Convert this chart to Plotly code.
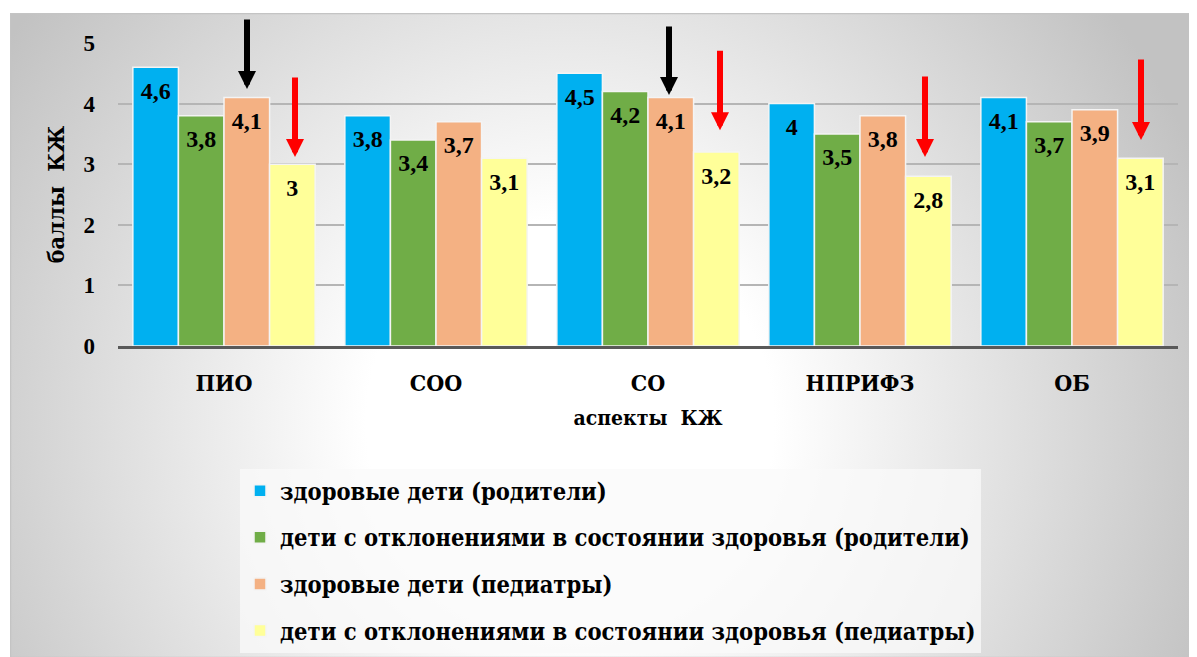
import base64
import plotly.graph_objects as go

categories = ["ПИО", "СОО", "СО", "НПРИФЗ", "ОБ"]
series_names = [
    "здоровые дети (родители)",
    "дети с отклонениями в состоянии здоровья (родители)",
    "здоровые дети (педиатры)",
    "дети с отклонениями в состоянии здоровья (педиатры)",
]
healthy_parents = [4.6, 3.8, 4.5, 4.0, 4.1]
deviation_parents = [3.8, 3.4, 4.2, 3.5, 3.7]
healthy_pediatr = [4.1, 3.7, 4.1, 3.8, 3.9]
deviation_pediatr = [3.0, 3.1, 3.2, 2.8, 3.1]
series_values = [healthy_parents, deviation_parents, healthy_pediatr, deviation_pediatr]
colors = ["#00B0F0", "#70AD47", "#F4B183", "#FFFF99"]
y_ticks = [0, 1, 2, 3, 4, 5]

NUMFONT = "Liberation Serif"
CYRFONT = "DejaVu Serif Condensed"
OFF = 8  # page body margin
W, H = 1197 - OFF, 657 - OFF
ML, MR, MT, MB = 118 - OFF, 19, 43 - OFF, 311
PW, PH = W - ML - MR, H - MT - MB

def fmt(v):
    s = f"{v:.1f}".replace(".", ",")
    return s[:-2] if s.endswith(",0") else s

fig = go.Figure()
for i, (name, vals, col) in enumerate(zip(series_names, series_values, colors)):
    fig.add_trace(go.Bar(
        x=categories, y=vals, name=name, offsetgroup=str(i),
        marker=dict(color=col, line=dict(color="#f4f4f4", width=1.5)),
        legendgroup=str(i), hoverinfo="skip",
    ))
for i, vals in enumerate(series_values):
    fig.add_trace(go.Scatter(
        x=categories, y=vals, mode="markers+text", offsetgroup=str(i),
        text=[fmt(v) for v in vals], textposition="bottom center",
        marker=dict(size=20, color="rgba(0,0,0,0)"),
        textfont=dict(family=NUMFONT, size=24, color="black", weight="bold"),
        showlegend=False, hoverinfo="skip", cliponaxis=False,
    ))

bx, by = 10 - OFF, 13 - OFF
gw, gh = W - bx, H - by
svg = (f'<svg xmlns="http://www.w3.org/2000/svg" width="{gw}" height="{gh}">'
       f'<defs><radialGradient id="g" gradientUnits="userSpaceOnUse" cx="560" cy="410" r="680">'
       f'<stop offset="0" stop-color="#ffffff"/><stop offset="0.3" stop-color="#ffffff"/>'
       f'<stop offset="1" stop-color="#c2c2c2"/></radialGradient></defs>'
       f'<rect x="0" y="0" width="{gw}" height="{gh}" fill="url(#g)"/>'
       f'<rect x="0.5" y="0.5" width="{gw}" height="{gh}" fill="none" stroke="#c4c4c4" stroke-width="1.5"/>'
       f'</svg>')
src = "data:image/svg+xml;base64," + base64.b64encode(svg.encode()).decode()
fig.add_layout_image(dict(
    source=src, xref="paper", yref="paper",
    x=(bx - ML) / PW, y=(H - MB - by) / PH, sizex=gw / PW, sizey=gh / PH,
    xanchor="left", yanchor="top", sizing="stretch", layer="below",
))

arrows = [
    ("ПИО", 23, 4.24, -71, "black"),
    ("ПИО", 71, 3.12, -81, "red"),
    ("СО", 21, 4.14, -70, "black"),
    ("СО", 72, 3.56, -81, "red"),
    ("НПРИФЗ", 65, 3.12, -82, "red"),
    ("ОБ", 69, 3.40, -82, "red"),
]
for cat, dx, yv, ay, col in arrows:
    fig.add_annotation(x=cat, y=yv, xref="x", yref="y", xshift=dx, text="",
                       showarrow=True, ax=0, ay=ay, arrowcolor=col,
                       arrowwidth=6, arrowhead=2, arrowsize=0.6)

fig.update_layout(
    width=W, height=H, autosize=False,
    margin=dict(l=ML, r=MR, t=MT, b=MB, autoexpand=False),
    paper_bgcolor="white", plot_bgcolor="rgba(0,0,0,0)",
    barmode="group", bargap=0.14, bargroupgap=0,
    scattermode="group", scattergap=0.14,
    font=dict(family=CYRFONT, color="black"),
    showlegend=True,
    legend=dict(
        x=(240 - OFF - ML) / PW, y=(H - MB - (469 - OFF)) / PH, xanchor="left", yanchor="top",
        font=dict(family=CYRFONT, size=23.5, color="black", weight="bold"),
        bgcolor="rgba(250,250,250,0.75)", tracegroupgap=13,
        traceorder="grouped",
    ),
)
fig.update_yaxes(
    range=[0, 5], tickvals=y_ticks, showgrid=True, gridcolor="#b5b5b5", gridwidth=2,
    zeroline=False, showline=False, ticks="", automargin=False,
    tickfont=dict(family=NUMFONT, size=23, color="black", weight="bold"),
    ticklabelstandoff=22,
    title=dict(text="баллы\u00a0 КЖ", standoff=12,
               font=dict(family=CYRFONT, size=23, color="black", weight="bold")),
)
fig.update_xaxes(
    showline=True, linecolor="#595959", linewidth=3, ticks="", automargin=False,
    tickfont=dict(family=CYRFONT, size=23, color="black", weight="bold"),
    ticklabelstandoff=14,
    title=dict(text="аспекты\u00a0 КЖ", standoff=16,
               font=dict(family=CYRFONT, size=21, color="black", weight="bold")),
)

fig.write_html("out.html")
